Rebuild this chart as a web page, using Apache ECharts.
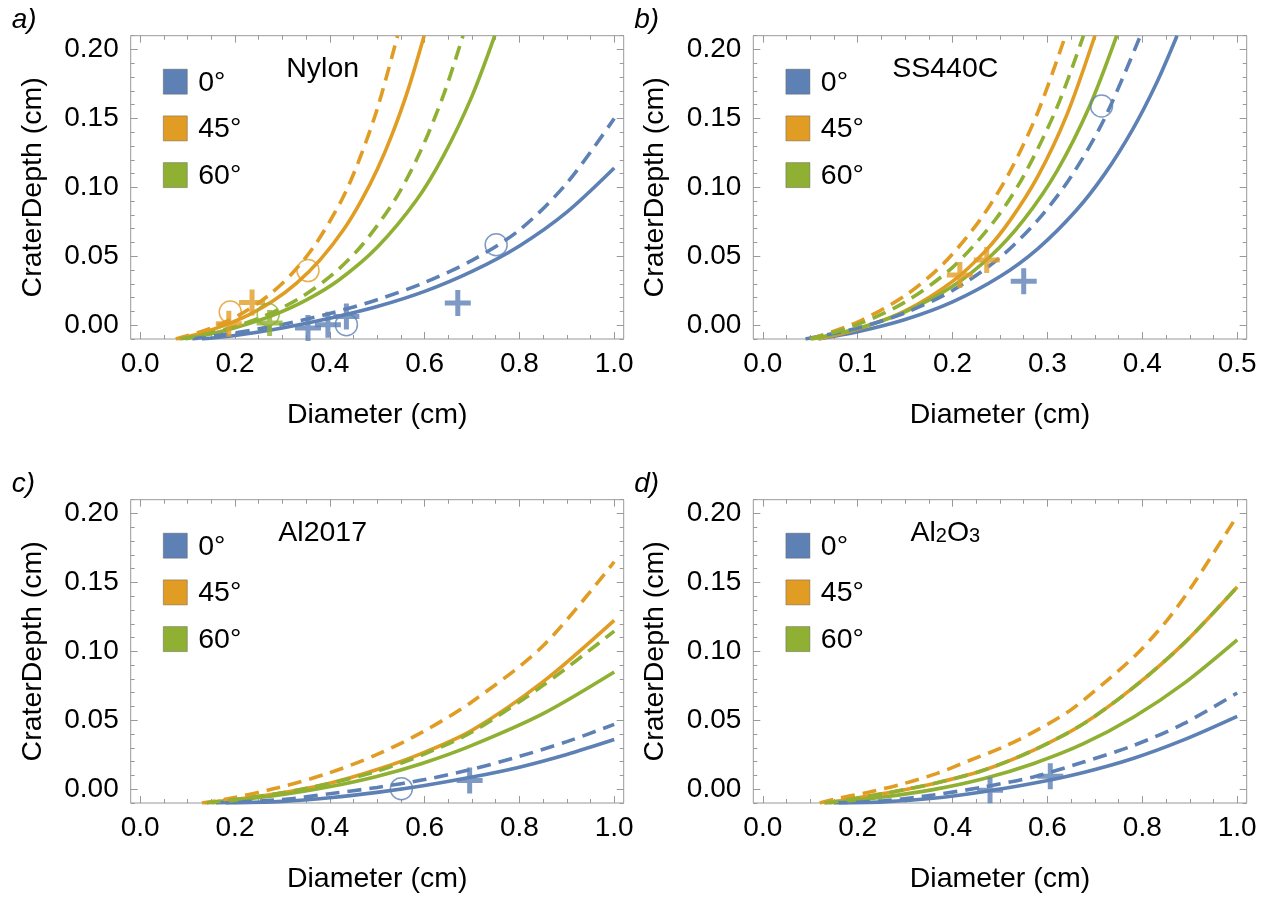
<!DOCTYPE html>
<html><head><meta charset="utf-8">
<script src="https://cdn.jsdelivr.net/npm/echarts@6/dist/echarts.min.js"></script>
<style>html,body{margin:0;padding:0;background:#fff}#c{width:1270px;height:897px}</style>
</head><body><div id="c"></div>
<script>
// ---------- data ----------
const panelLetters = ['a)', 'b)', 'c)', 'd)'];
const materials = ['Nylon', 'SS440C', 'Al2017', 'Al2O3'];
const angleLabels = ['0°', '45°', '60°'];
const yTicks = [0, 0.05, 0.10, 0.15, 0.20];
const xTicksWide = [0, 0.2, 0.4, 0.6, 0.8, 1.0];
const xTicksNarrow = [0, 0.1, 0.2, 0.3, 0.4, 0.5];

// Nylon
const nylon0Solid = [[0.13,-0.01],[0.2,-0.0075],[0.3,-0.002],[0.4,0.005],[0.5,0.0135],[0.6,0.0245],[0.7,0.039],[0.8,0.0575],[0.9,0.082],[1.0,0.114]];
const nylon0Dash = [[0.11,-0.01],[0.2,-0.0055],[0.3,0.0005],[0.4,0.0085],[0.5,0.0185],[0.6,0.031],[0.7,0.047],[0.8,0.069],[0.9,0.103],[1.0,0.150]];
const nylon45Solid = [[0.08,-0.01],[0.13,-0.0056],[0.18,0.0002],[0.23,0.0077],[0.28,0.0176],[0.33,0.0306],[0.38,0.0476],[0.43,0.0698],[0.467,0.0908],[0.50,0.113],[0.53,0.1371],[0.565,0.1707],[0.599,0.21]];
const nylon45Dash = [[0.075,-0.01],[0.12,-0.0056],[0.17,0.0008],[0.22,0.0096],[0.27,0.0214],[0.32,0.0373],[0.37,0.0588],[0.425,0.0908],[0.46,0.1181],[0.50,0.1568],[0.543,0.21]];
const nylon60Solid = [[0.095,-0.01],[0.15,-0.0062],[0.2,-0.0019],[0.277,0.0068],[0.35,0.0182],[0.42,0.033],[0.50,0.0565],[0.583,0.0908],[0.64,0.123],[0.70,0.1662],[0.748,0.21]];
const nylon60Dash = [[0.085,-0.01],[0.14,-0.0063],[0.20,-0.0009],[0.27,0.0079],[0.34,0.0204],[0.41,0.038],[0.47,0.0589],[0.537,0.0908],[0.59,0.1252],[0.64,0.167],[0.681,0.21]];
const nylonPlus0 = [[0.354,-0.002],[0.396,0.0004],[0.435,0.0064],[0.670,0.0161]];
const nylonCircle0 = [[0.435,0.0004],[0.751,0.0584]];
const nylonPlus45 = [[0.236,0.0165],[0.187,0.001]];
const nylonCircle45 = [[0.19,0.0095],[0.354,0.0396]];
const nylonPlus60 = [[0.273,0.0016]];
const nylonCircle60 = [[0.27,0.0077]];

// SS440C
const ss0Solid = [[0.059,-0.01],[0.1,-0.0048],[0.15,0.0041],[0.2,0.0169],[0.25,0.0353],[0.29,0.0556],[0.33,0.083],[0.36,0.1094],[0.39,0.1423],[0.415,0.1757],[0.4366,0.21]];
const ss0Dash = [[0.045,-0.01],[0.10,-0.002],[0.15,0.009],[0.20,0.0252],[0.25,0.0491],[0.29,0.0764],[0.325,0.1079],[0.36,0.1497],[0.398,0.21]];
const ss45Solid = [[0.058,-0.01],[0.10,-0.0028],[0.15,0.0104],[0.20,0.0318],[0.235,0.0541],[0.261,0.0764],[0.29,0.1081],[0.32,0.1518],[0.35,0.21]];
const ss45Dash = [[0.05,-0.01],[0.10,0.0023],[0.15,0.0215],[0.19,0.0444],[0.229,0.0764],[0.26,0.1108],[0.29,0.1547],[0.319,0.21]];
const ss60Solid = [[0.052,-0.01],[0.10,-0.0024],[0.15,0.0097],[0.20,0.0282],[0.24,0.05],[0.275,0.0764],[0.31,0.1118],[0.345,0.1598],[0.373,0.21]];
const ss60Dash = [[0.05,-0.01],[0.10,0.0005],[0.15,0.0168],[0.20,0.042],[0.245,0.0765],[0.275,0.1084],[0.31,0.1579],[0.338,0.21]];
const ssPlus0 = [[0.275,0.0318]];
const ssCircle0 = [[0.357,0.159]];
const ssPlus45 = [[0.2077,0.0364],[0.236,0.0473]];

// Al2017
const al0Solid = [[0.18,-0.01],[0.3,-0.0088],[0.4,-0.0062],[0.5,-0.0023],[0.6,0.0027],[0.7,0.0088],[0.8,0.016],[0.9,0.0252],[1.0,0.036]];
const al0Dash = [[0.16,-0.01],[0.3,-0.0075],[0.4,-0.0033],[0.5,0.0013],[0.6,0.007],[0.7,0.0145],[0.8,0.0238],[0.9,0.0345],[1.0,0.047]];
const al45Solid = [[0.136,-0.01],[0.185,-0.0081],[0.29,-0.0032],[0.396,0.004],[0.495,0.0137],[0.593,0.0258],[0.7,0.0427],[0.85,0.078],[1.0,0.1225]];
const al45Dash = [[0.13,-0.01],[0.185,-0.007],[0.29,0.001],[0.396,0.0115],[0.495,0.0245],[0.593,0.041],[0.7,0.0635],[0.85,0.104],[1.0,0.165]];
const al60Solid = [[0.15,-0.01],[0.29,-0.0044],[0.396,0.0016],[0.495,0.0089],[0.593,0.0185],[0.7,0.0318],[0.85,0.0548],[1.0,0.085]];
const al60Dash = [[0.14,-0.01],[0.185,-0.0081],[0.29,-0.0032],[0.396,0.004],[0.495,0.0125],[0.593,0.0246],[0.7,0.0415],[0.85,0.0753],[1.0,0.1147]];
const alPlus0 = [[0.695,0.0064]];
const alCircle0 = [[0.551,0.0004]];

// Al2O3
const ox0Solid = [[0.16,-0.01],[0.254,-0.0092],[0.359,-0.0066],[0.465,-0.0018],[0.570,0.0043],[0.676,0.0122],[0.782,0.0225],[0.887,0.0358],[1.0,0.0529]];
const ox0Dash = [[0.15,-0.01],[0.254,-0.0084],[0.359,-0.0042],[0.465,0.0016],[0.570,0.0089],[0.676,0.0197],[0.782,0.0318],[0.887,0.0475],[1.0,0.0698]];
const ox45Solid = [[0.13,-0.01],[0.148,-0.0093],[0.254,-0.0032],[0.359,0.004],[0.465,0.0137],[0.570,0.0282],[0.676,0.0475],[0.782,0.074],[0.887,0.1056],[1.0,0.1467]];
const ox45Dash = [[0.12,-0.01],[0.155,-0.0069],[0.225,-0.002],[0.296,0.004],[0.366,0.0113],[0.437,0.021],[0.507,0.0306],[0.577,0.0427],[0.648,0.0572],[0.718,0.0766],[0.789,0.0983],[0.852,0.1225],[0.908,0.149],[0.996,0.1962]];
const ox60Solid = [[0.14,-0.01],[0.254,-0.0057],[0.359,-0.0003],[0.465,0.0076],[0.570,0.0185],[0.676,0.033],[0.782,0.0524],[0.887,0.0766],[1.0,0.1084]];
const ox60Dash = [[0.13,-0.01],[0.148,-0.0093],[0.254,-0.0032],[0.359,0.004],[0.465,0.0137],[0.570,0.0282],[0.676,0.0475],[0.782,0.074],[0.887,0.1056],[1.0,0.1467]];
const oxPlus0 = [[0.479,-0.0008],[0.606,0.0094]];

// ---------- styling / layout ----------
const BLUE = '#5E81B5', ORANGE = '#E19C24', GREEN = '#8FB032';
const COLORS = [BLUE, ORANGE, GREEN];
const FONT = '"Liberation Sans", Arial, sans-serif';
const FRAME = '#999999';
const DASH = [14, 8];
const PLUS = 'path://M10.5,0 H15.5 V10.5 H26 V15.5 H15.5 V26 H10.5 V15.5 H0 V10.5 H10.5 Z';

const grids = [
  {left: 130.7, top: 35.7, width: 493, height: 303.3},
  {left: 753.3, top: 35.7, width: 493.4, height: 303.3},
  {left: 130.7, top: 499.7, width: 493, height: 303.3},
  {left: 753.3, top: 499.7, width: 493.4, height: 303.3}
];
const xRanges = [[-0.02, 1.02], [-0.01, 0.51], [-0.02, 1.02], [-0.02, 1.02]];
const yRange = [-0.01, 0.21];

const panels = [
  {lines: [[nylon0Solid, nylon0Dash], [nylon45Solid, nylon45Dash], [nylon60Solid, nylon60Dash]],
   plus: [nylonPlus0, nylonPlus45, nylonPlus60], circ: [nylonCircle0, nylonCircle45, nylonCircle60], xt: xTicksWide, xminor: 0.05},
  {lines: [[ss0Solid, ss0Dash], [ss45Solid, ss45Dash], [ss60Solid, ss60Dash]],
   plus: [ssPlus0, ssPlus45, []], circ: [ssCircle0, [], []], xt: xTicksNarrow, xminor: 0.025},
  {lines: [[al0Solid, al0Dash], [al45Solid, al45Dash], [al60Solid, al60Dash]],
   plus: [alPlus0, [], []], circ: [alCircle0, [], []], xt: xTicksWide, xminor: 0.05},
  {lines: [[ox0Solid, ox0Dash], [ox45Solid, ox45Dash], [ox60Solid, ox60Dash]],
   plus: [oxPlus0, [], []], circ: [[], [], []], xt: xTicksWide, xminor: 0.05}
];

function steps(from, to, step, exclude) {
  const out = [];
  const n = Math.round((to - from) / step);
  for (let k = 0; k <= n; k++) {
    const v = +(from + k * step).toFixed(4);
    if (!exclude.some(e => Math.abs(e - v) < 1e-6)) out.push(v);
  }
  return out;
}

const xAxis = [], yAxis = [], series = [], graphic = [];
const tickStyle = {color: FRAME, width: 1};
const labelStyle = {fontFamily: FONT, fontSize: 28, color: '#000'};
const hiddenLine = {show: false, onZero: false};

panels.forEach((p, i) => {
  const [xmin, xmax] = xRanges[i];
  const xMinor = steps(0, p.xt[p.xt.length - 1], p.xminor, p.xt);
  const yMinor = steps(-0.01, 0.21, 0.01, yTicks);
  ['bottom', 'top'].forEach(pos => {
    xAxis.push({gridIndex: i, type: 'value', min: xmin, max: xmax, position: pos,
      axisLine: hiddenLine, splitLine: {show: false},
      axisTick: {show: true, inside: true, length: 7, customValues: p.xt, lineStyle: tickStyle},
      axisLabel: {show: pos === 'bottom', customValues: p.xt, margin: 11,
        formatter: v => (+v).toFixed(1), ...labelStyle}});
    xAxis.push({gridIndex: i, type: 'value', min: xmin, max: xmax, position: pos,
      axisLine: hiddenLine, splitLine: {show: false},
      axisTick: {show: true, inside: true, length: 4, customValues: xMinor, lineStyle: tickStyle},
      axisLabel: {show: false, customValues: xMinor}});
  });
  ['left', 'right'].forEach(pos => {
    yAxis.push({gridIndex: i, type: 'value', min: yRange[0], max: yRange[1], position: pos,
      axisLine: hiddenLine, splitLine: {show: false},
      axisTick: {show: true, inside: true, length: 7, customValues: yTicks, lineStyle: tickStyle},
      axisLabel: {show: pos === 'left', customValues: yTicks, margin: 12,
        formatter: v => (+v).toFixed(2), ...labelStyle}});
    yAxis.push({gridIndex: i, type: 'value', min: yRange[0], max: yRange[1], position: pos,
      axisLine: hiddenLine, splitLine: {show: false},
      axisTick: {show: true, inside: true, length: 4, customValues: yMinor, lineStyle: tickStyle},
      axisLabel: {show: false, customValues: yMinor}});
  });
  const xi = i * 4, yi = i * 4;
  p.lines.forEach((pair, c) => {
    pair.forEach((data, d) => {
      series.push({type: 'line', xAxisIndex: xi, yAxisIndex: yi, data: data,
        showSymbol: false, symbol: 'none', smooth: 0.3, clip: true, silent: true,
        lineStyle: {color: COLORS[c], width: 3.6, type: d === 0 ? 'solid' : DASH, cap: 'butt'},
        z: 2 + d});
    });
  });
  p.plus.forEach((data, c) => {
    if (!data.length) return;
    series.push({type: 'scatter', xAxisIndex: xi, yAxisIndex: yi, data: data, symbol: PLUS,
      symbolSize: 26, itemStyle: {color: COLORS[c]}, silent: true, z: 5});
  });
  p.circ.forEach((data, c) => {
    if (!data.length) return;
    series.push({type: 'scatter', xAxisIndex: xi, yAxisIndex: yi, data: data, symbol: 'circle',
      symbolSize: 22, itemStyle: {color: 'rgba(0,0,0,0)', borderColor: COLORS[c], borderWidth: 1.5},
      silent: true, z: 5});
  });

  const g = grids[i];
  graphic.push({type: 'text', x: g.left - 119, y: g.top - 15,
    style: {text: panelLetters[i], font: 'italic 28px ' + FONT, fill: '#000',
      textAlign: 'left', textVerticalAlign: 'middle'}});
  graphic.push({type: 'text', x: g.left + g.width / 2, y: g.top + g.height + 76,
    style: {text: 'Diameter (cm)', font: '28.5px ' + FONT, fill: '#000',
      textAlign: 'center', textVerticalAlign: 'middle'}});
  graphic.push({type: 'text', x: g.left - 98, y: g.top + g.height / 2, rotation: Math.PI / 2,
    style: {text: 'CraterDepth (cm)', font: '28.5px ' + FONT, fill: '#000',
      textAlign: 'center', textVerticalAlign: 'middle'}});
  if (materials[i] === 'Al2O3') {
    graphic.push({type: 'text', x: g.left + 192, y: g.top + 33,
      style: {text: '{m|Al}{s|2}{m|O}{s|3}', fill: '#000', textAlign: 'center', textVerticalAlign: 'middle',
        rich: {m: {font: '28.5px ' + FONT, fill: '#000'},
               s: {font: '20px ' + FONT, fill: '#000', padding: [8, 0, 0, 0]}}}});
  } else {
    graphic.push({type: 'text', x: g.left + 192, y: g.top + 33,
      style: {text: materials[i], font: '28.5px ' + FONT, fill: '#000',
        textAlign: 'center', textVerticalAlign: 'middle'}});
  }
  angleLabels.forEach((lab, k) => {
    const cy = g.top + 46 + k * 46.7;
    graphic.push({type: 'rect', shape: {x: g.left + 32.6, y: cy - 12.5, width: 24, height: 25},
      style: {fill: COLORS[k], stroke: 'rgba(90,90,90,0.45)', lineWidth: 1}});
    graphic.push({type: 'text', x: g.left + 67.5, y: cy + 1,
      style: {text: lab, font: '28.5px ' + FONT, fill: '#000', textAlign: 'left', textVerticalAlign: 'middle'}});
  });
});

const chart = echarts.init(document.getElementById('c'), null, {renderer: 'canvas'});
chart.setOption({
  animation: false,
  backgroundColor: '#fff',
  grid: grids.map(g => ({...g, show: true, borderColor: FRAME, borderWidth: 1, backgroundColor: 'transparent', containLabel: false})),
  xAxis, yAxis, series, graphic
});
</script></body></html>
